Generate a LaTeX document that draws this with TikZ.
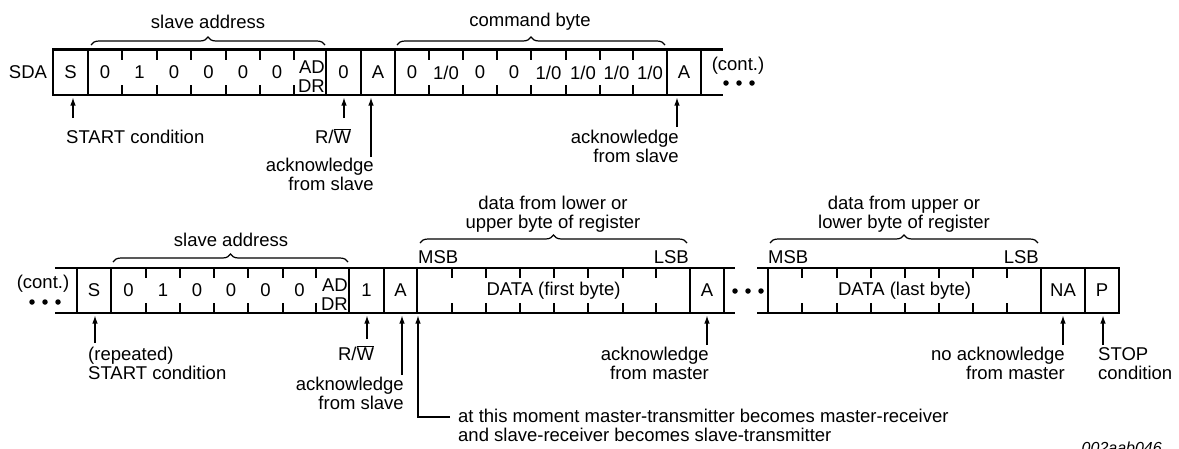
\documentclass[tikz,border=0pt]{standalone}
\usepackage{fontspec}
\setmainfont{Liberation Sans}
\usetikzlibrary{decorations.pathreplacing,arrows.meta}
\newcommand\ovlw[1]{$\overline{\hbox{#1}}$}
\tikzset{
  frame/.style={line width=2.8pt},
  fullv/.style={line width=2.8pt, line cap=rect},
  tickln/.style={line width=2.2pt},
  txt/.style={inner sep=0pt, font=\fontsize{18.5}{19}\selectfont},
  ptr/.style={line width=1.2pt, -{Latex[length=8pt,width=5.5pt]}},
  brc/.style={line width=1.2pt, decorate, decoration={brace, amplitude=8pt}},
  blob/.style={circle, fill, inner sep=0pt, minimum size=5.5pt},
}
\begin{document}
\begin{tikzpicture}[x=1pt,y=-1pt]
\useasboundingbox (0,0) rectangle (1179,448);

% ---------------- top row ----------------
\draw[frame] (53,49.5) -- (723,49.5);
\draw[frame] (53,95) -- (723,95);
\foreach \x in {53,88,326,361,395,667,701} \draw[fullv] (\x,49.5) -- (\x,95);
\foreach \x in {122,157,191,226,260,294,429,463,497,531,566,600,633} {
  \draw[tickln] (\x,49.5) -- (\x,59.5);
  \draw[tickln] (\x,85) -- (\x,95);
}
\node[txt] (sda) at (28,72.5) {SDA};
\node[txt] (tS) at (70.5,72.5) {S};
\node[txt] (ta1) at (105,72.5) {0};
\node[txt] (ta2) at (139.5,72.5) {1};
\node[txt] (ta3) at (174,72.5) {0};
\node[txt] (ta4) at (208.5,72.5) {0};
\node[txt] (ta5) at (243,72.5) {0};
\node[txt] (ta6) at (277,72.5) {0};
\node[txt, align=right, anchor=east] (tadr) at (325,76.5) {AD\\DR};
\node[txt] (tRW) at (343.5,72.5) {0};
\node[txt] (tA1) at (378,72.5) {A};
\node[txt] (tc1) at (412,72.5) {0};
\node[txt] (tc2) at (446,72.5) {1/0};
\node[txt] (tc3) at (480,72.5) {0};
\node[txt] (tc4) at (514,72.5) {0};
\node[txt] (tc5) at (548.5,72.5) {1/0};
\node[txt] (tc6) at (583,72.5) {1/0};
\node[txt] (tc7) at (616.5,72.5) {1/0};
\node[txt] (tc8) at (650,72.5) {1/0};
\node[txt] (tA2) at (684,72.5) {A};
\node[txt] (tcont) at (738,66) {(cont.)};
\node[blob] (td1) at (726,83) {};
\node[blob] (td2) at (739,83) {};
\node[blob] (td3) at (752,83) {};

% braces top
\draw[brc] (91,45) -- (325,45);
\node[txt, anchor=base] (tsa) at (208,28) {slave address};
\draw[brc] (397,45) -- (665,45);
\node[txt, anchor=base] (tcb) at (530,26) {command byte};

% arrows top
\coordinate (p1t) at (73,97.5);  \coordinate (p1b) at (73,118);
\coordinate (p2t) at (344,97.5); \coordinate (p2b) at (344,118);
\coordinate (p3t) at (371,97.5); \coordinate (p3b) at (371,157);
\coordinate (p4t) at (677,97.5); \coordinate (p4b) at (677,127);
\draw[ptr] (p1b) -- (p1t);
\draw[ptr] (p2b) -- (p2t);
\draw[ptr] (p3b) -- (p3t);
\draw[ptr] (p4b) -- (p4t);
\node[txt, anchor=base west] (l1) at (66,143) {START condition};
\node[txt, anchor=base] (l2) at (333,143) {R/\ovlw{W}};
\node[txt, anchor=base east, align=right] (l3) at (374,190) {acknowledge\\from slave};
\node[txt, anchor=base east, align=right] (l4) at (679,162) {acknowledge\\from slave};

% ---------------- bottom row ----------------
\draw[frame] (55,268) -- (735,268);
\draw[frame] (55,313) -- (735,313);
\draw[frame] (757,268) -- (1119,268);
\draw[frame] (757,313) -- (1119,313);
\foreach \x in {77,111,349,384,417,690,724,768,1041,1085,1119} \draw[fullv] (\x,268) -- (\x,313);
\foreach \x in {146,180,214,248,283,316,452,486,520,554,588,623,656,802,837,871,905,939,973,1007} {
  \draw[tickln] (\x,268) -- (\x,278);
  \draw[tickln] (\x,303) -- (\x,313);
}
\node[txt] (bcont) at (43,284) {(cont.)};
\node[blob] (bd1) at (32,302) {};
\node[blob] (bd2) at (45,302) {};
\node[blob] (bd3) at (58,302) {};
\node[txt] (bS) at (94,290.5) {S};
\node[txt] (ba1) at (128.5,290.5) {0};
\node[txt] (ba2) at (163,290.5) {1};
\node[txt] (ba3) at (197,290.5) {0};
\node[txt] (ba4) at (231,290.5) {0};
\node[txt] (ba5) at (265.5,290.5) {0};
\node[txt] (ba6) at (299.5,290.5) {0};
\node[txt, align=right, anchor=east] (badr) at (348,294.5) {AD\\DR};
\node[txt] (bRW) at (366.5,290.5) {1};
\node[txt] (bA1) at (400.5,290.5) {A};
\node[txt] (bdata1) at (553.5,290.5) {DATA (first byte)};
\node[txt] (bA2) at (707,290.5) {A};
\node[blob] (md1) at (735,291) {};
\node[blob] (md2) at (748,291) {};
\node[blob] (md3) at (761,291) {};
\node[txt] (bdata2) at (904.5,290.5) {DATA (last byte)};
\node[txt] (bNA) at (1063,290.5) {NA};
\node[txt] (bP) at (1102,290.5) {P};

% braces bottom
\draw[brc] (113,262) -- (348,262);
\node[txt, anchor=base] (bsa) at (231,246) {slave address};
\draw[brc] (420,243) -- (687,243);
\node[txt, anchor=base, align=center] (bdl1) at (553,228) {data from lower or\\upper byte of register};
\draw[brc] (770,243) -- (1038,243);
\node[txt, anchor=base, align=center] (bdl2) at (904,228) {data from upper or\\lower byte of register};
\node[txt, anchor=base west] (msb1) at (418,263) {MSB};
\node[txt, anchor=base east] (lsb1) at (689,263) {LSB};
\node[txt, anchor=base west] (msb2) at (768,263) {MSB};
\node[txt, anchor=base east] (lsb2) at (1039,263) {LSB};

% arrows bottom
\coordinate (q1t) at (95,315.5);   \coordinate (q1b) at (95,343);
\coordinate (q2t) at (367,315.5);  \coordinate (q2b) at (367,339);
\coordinate (q3t) at (402,315.5);  \coordinate (q3b) at (402,375);
\coordinate (q4t) at (418,315.5);  \coordinate (q4c) at (418,417); \coordinate (q4e) at (450,417);
\coordinate (q5t) at (707,315.5);  \coordinate (q5b) at (707,345);
\coordinate (q6t) at (1063,315.5); \coordinate (q6b) at (1063,345);
\coordinate (q7t) at (1103,315.5); \coordinate (q7b) at (1103,345);
\draw[ptr] (q1b) -- (q1t);
\draw[ptr] (q2b) -- (q2t);
\draw[ptr] (q3b) -- (q3t);
\draw[ptr] (q4e) -- (q4c) -- (q4t);
\draw[ptr] (q5b) -- (q5t);
\draw[ptr] (q6b) -- (q6t);
\draw[ptr] (q7b) -- (q7t);
\node[txt, anchor=base west, align=left] (m1) at (88,379) {(repeated)\\START condition};
\node[txt, anchor=base] (m2) at (356,360) {R/\ovlw{W}};
\node[txt, anchor=base east, align=right] (m3) at (404,409) {acknowledge\\from slave};
\node[txt, anchor=base west, align=left] (m4) at (458,441) {at this moment master-transmitter becomes master-receiver\\and slave-receiver becomes slave-transmitter};
\node[txt, anchor=base east, align=right] (m5) at (709,379) {acknowledge\\from master};
\node[txt, anchor=base east, align=right] (m6) at (1065,379) {no acknowledge\\from master};
\node[txt, anchor=base west, align=left] (m7) at (1098,379) {STOP\\condition};

\node[inner sep=0pt, anchor=base east, font=\fontsize{16}{16}\selectfont\itshape] (ref) at (1162,453.5) {002aab046};
\end{tikzpicture}
\end{document}
